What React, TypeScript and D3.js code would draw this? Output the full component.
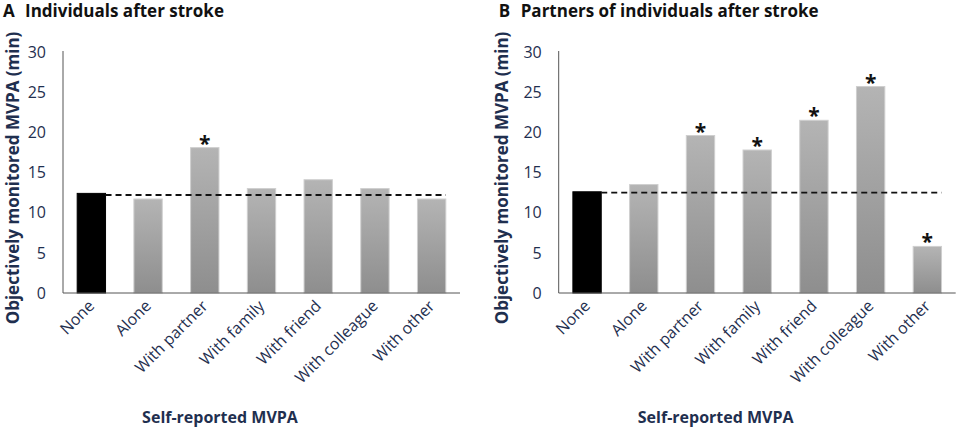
import React from "react";
import * as d3 from "d3";

const categories = ["None", "Alone", "With partner", "With family", "With friend", "With colleague", "With other"];
const valuesA = [12.4, 11.7, 18.1, 13.0, 14.1, 13.0, 11.7];
const valuesB = [12.6, 13.5, 19.6, 17.8, 21.5, 25.7, 5.8];
const sigA = [false, false, true, false, false, false, false];
const sigB = [false, false, true, true, true, true, true];
const refA = 12.2;
const refB = 12.5;
const yTicks = [0, 5, 10, 15, 20, 25, 30];
const titleA = { letter: "A", text: "Individuals after stroke" };
const titleB = { letter: "B", text: "Partners of individuals after stroke" };

const FONT = "'Open Sans', 'Noto Sans', sans-serif";
const NAVY = "#1f2f4f";

type PanelProps = {
  ox: number;
  values: number[];
  sig: boolean[];
  refVal: number;
  title: { letter: string; text: string };
  gid: string;
  labelX: number;
};

function Panel({ ox, values, sig, refVal, title, gid, labelX }: PanelProps) {
  const axisX = 63;
  const plotW = 397;
  const base = 293;
  const y = d3.scaleLinear().domain([0, 30]).range([base, 52]);
  const x = d3.scaleBand<string>().domain(categories).range([axisX, axisX + plotW]).paddingInner(0.5).paddingOuter(0.25);
  const bw = x.bandwidth();
  const firstRight = (x(categories[0]) ?? 0) + bw;
  const lastRight = (x(categories[categories.length - 1]) ?? 0) + bw;
  return (
    <g transform={`translate(${ox},0)`}>
      <defs>
        <linearGradient id={gid} x1="0" y1="0" x2="0" y2="1">
          <stop offset="0%" stopColor="#b4b4b4" />
          <stop offset="100%" stopColor="#8e8e8e" />
        </linearGradient>
      </defs>
      <text x={3} y={17} fontFamily={FONT} fontWeight={700} fontSize={17} fill="#111">
        {title.letter}
        <tspan x={25}>{title.text}</tspan>
      </text>
      <text
        transform={`translate(${labelX},${178}) rotate(-90)`}
        textAnchor="middle"
        fontFamily={FONT}
        fontWeight={700}
        fontSize={17}
        fill={NAVY}
      >
        Objectively monitored MVPA (min)
      </text>
      {yTicks.map((t) => (
        <text key={t} x={46} y={y(t)} dy="0.36em" textAnchor="end" fontFamily={FONT} fontSize={16} fill={NAVY}>
          {t}
        </text>
      ))}
      {categories.map((c, i) => {
        const bx = x(c) ?? 0;
        const top = y(values[i]);
        return (
          <g key={c}>
            <rect
              x={bx}
              y={top}
              width={bw}
              height={base - top}
              fill={i === 0 ? "#000" : `url(#${gid})`}
              stroke={i === 0 ? "#000" : "#cfcfcf"}
              strokeWidth={1}
            />
            {sig[i] && (
              <text x={bx + bw / 2} y={top + 3} textAnchor="middle" fontFamily={FONT} fontWeight={700} fontSize={21} fill="#111">
                *
              </text>
            )}
          </g>
        );
      })}
      <line x1={firstRight} x2={lastRight} y1={y(refVal)} y2={y(refVal)} stroke="#111" strokeWidth={1.8} strokeDasharray="6,4" />
      <line x1={axisX} x2={axisX} y1={51} y2={base} stroke="#555" strokeWidth={1} />
      <line x1={axisX} x2={axisX + plotW} y1={base} y2={base} stroke="#555" strokeWidth={1} />
      {categories.map((c) => {
        const cx = (x(c) ?? 0) + bw / 2 + 4;
        return (
          <text
            key={c}
            transform={`translate(${cx},${307}) rotate(-45)`}
            textAnchor="end"
            fontFamily={FONT}
            fontSize={16}
            fill={NAVY}
          >
            {c}
          </text>
        );
      })}
      <text x={220} y={423} textAnchor="middle" fontFamily={FONT} fontWeight={700} fontSize={16} fill={NAVY}>
        Self-reported MVPA
      </text>
    </g>
  );
}

export default function App() {
  return (
    <svg width={957} height={428} style={{ position: "absolute", left: 0, top: 0, background: "#fff" }}>
      <rect width={957} height={428} fill="#fff" />
      <Panel ox={0} values={valuesA} sig={sigA} refVal={refA} title={titleA} gid="gA" labelX={18.5} />
      <Panel ox={495.7} values={valuesB} sig={sigB} refVal={refB} title={titleB} gid="gB" labelX={12.5} />
    </svg>
  );
}
